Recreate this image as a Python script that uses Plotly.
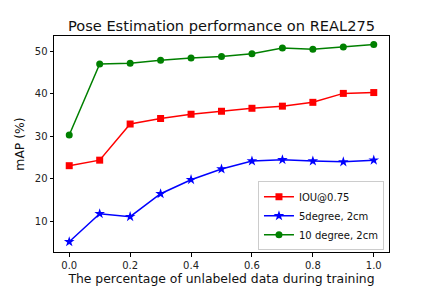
import plotly.graph_objects as go

x_vals = [0.0, 0.1, 0.2, 0.3, 0.4, 0.5, 0.6, 0.7, 0.8, 0.9, 1.0]
iou_075 = [23.1, 24.4, 32.9, 34.2, 35.2, 35.9, 36.6, 37.1, 38.0, 40.1, 40.3]
deg5_2cm = [5.2, 11.8, 11.1, 16.5, 19.8, 22.3, 24.2, 24.5, 24.2, 24.0, 24.4]
deg10_2cm = [30.3, 47.0, 47.2, 47.9, 48.4, 48.8, 49.4, 50.8, 50.5, 51.0, 51.6]
series_names = ["IOU@0.75", "5degree, 2cm", "10 degree, 2cm"]

fig = go.Figure()
fig.add_trace(go.Scatter(x=x_vals, y=iou_075, name=series_names[0], mode="lines+markers",
                         line=dict(color="red", width=1.5),
                         marker=dict(symbol="square", size=7, color="red")))
fig.add_trace(go.Scatter(x=x_vals, y=deg5_2cm, name=series_names[1], mode="lines+markers",
                         line=dict(color="blue", width=1.5),
                         marker=dict(symbol="star", size=8, color="blue")))
fig.add_trace(go.Scatter(x=x_vals, y=deg10_2cm, name=series_names[2], mode="lines+markers",
                         line=dict(color="green", width=1.5),
                         marker=dict(symbol="circle", size=7, color="green")))

axis_common = dict(showgrid=False, zeroline=False, showline=True, linecolor="black",
                   linewidth=1, mirror=True, ticks="outside", ticklen=3.5,
                   tickcolor="black", tickfont=dict(size=10, color="#222222"),
                   automargin=False)

# page body has an 8px default margin, so the figure is sized 424x280
fig.update_layout(
    width=424, height=280,
    margin=dict(l=46, r=43, t=28, b=36),
    paper_bgcolor="white", plot_bgcolor="white",
    font=dict(family="DejaVu Sans", color="#111111"),
    title=dict(text="Pose Estimation performance on REAL275", x=0.5, xref="paper",
               xanchor="center", y=0.937, yanchor="middle", font=dict(size=14.6)),
    xaxis=dict(range=[-0.05, 1.05], tickvals=[0, 0.2, 0.4, 0.6, 0.8, 1.0],
               tickformat=".1f",
               title=dict(text="The percentage of unlabeled data during training",
                          font=dict(size=12.4), standoff=4), **axis_common),
    yaxis=dict(range=[2.8, 53.6], tickvals=[10, 20, 30, 40, 50],
               title=dict(text="mAP (%)", font=dict(size=12.4), standoff=7), **axis_common),
    legend=dict(x=0.985, y=0.008, xanchor="right", yanchor="bottom",
                bgcolor="rgba(255,255,255,0.8)", bordercolor="#cccccc", borderwidth=1,
                font=dict(size=10), tracegroupgap=0, itemwidth=30),
    showlegend=True,
)

fig.write_html("out.html")
